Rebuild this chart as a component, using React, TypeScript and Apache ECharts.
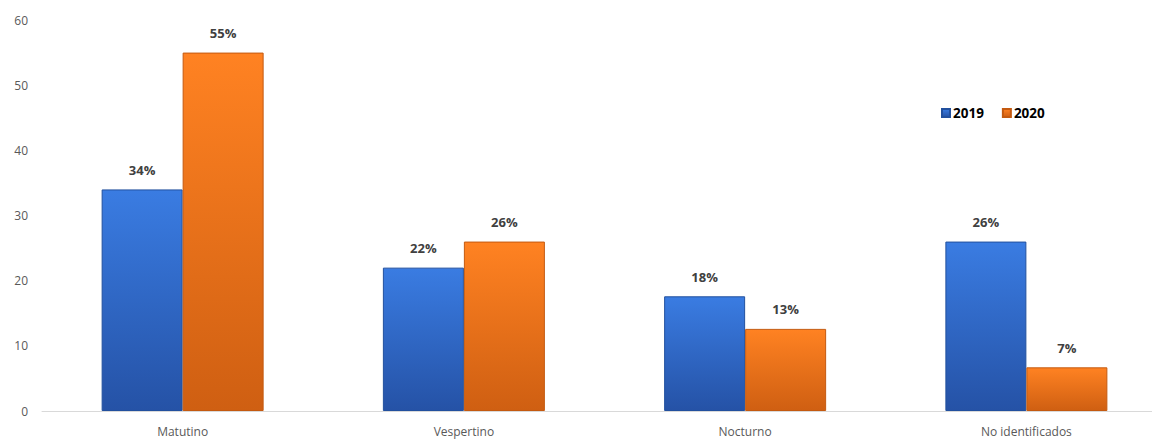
import React, { useEffect, useRef } from "react";
import * as echarts from "echarts";

const categories = ["Matutino", "Vespertino", "Nocturno", "No identificados"];
const series2019 = [34, 22, 17.6, 26];
const series2020 = [55, 26, 12.6, 6.7];
const seriesNames = ["2019", "2020"];
const yTicks = { min: 0, max: 60, interval: 10 };

const FONT = "'Open Sans', 'Noto Sans', sans-serif";

const blueFill = new echarts.graphic.LinearGradient(0, 0, 0, 1, [
  { offset: 0, color: "#3a7ce2" },
  { offset: 1, color: "#2552a6" },
]);
const orangeFill = new echarts.graphic.LinearGradient(0, 0, 0, 1, [
  { offset: 0, color: "#ff8222" },
  { offset: 1, color: "#cf5f12" },
]);

export default function App() {
  const ref = useRef<HTMLDivElement>(null);
  useEffect(() => {
    document.body.style.margin = "0";
    const chart = echarts.init(ref.current!, null, { renderer: "svg" });
    const label = {
      show: true,
      position: "top" as const,
      distance: 13,
      fontFamily: FONT,
      fontWeight: "bold" as const,
      fontSize: 13,
      color: "#404040",
      formatter: (p: any) => Math.round(p.value) + "%",
    };
    chart.setOption({
      animation: false,
      backgroundColor: "#ffffff",
      grid: {
        left: 42,
        right: 3,
        top: 20,
        bottom: 30,
        containLabel: false,
        outerBoundsMode: "none",
      },
      legend: {
        data: seriesNames,
        left: 936,
        top: 101,
        itemWidth: 8,
        itemHeight: 8,
        itemGap: 18,
        icon: "rect",
        textStyle: { fontFamily: FONT, fontWeight: "bold", fontSize: 13.5, color: "#000000", padding: [0, 0, 0, -2] },
      },
      xAxis: {
        type: "category",
        data: categories,
        axisLine: { show: true, lineStyle: { color: "#d9d9d9", width: 1 } },
        axisTick: { show: false },
        axisLabel: { fontFamily: FONT, fontSize: 12, color: "#595959", margin: 14 },
      },
      yAxis: {
        type: "value",
        min: yTicks.min,
        max: yTicks.max,
        interval: yTicks.interval,
        splitLine: { show: false },
        axisLine: { show: false },
        axisTick: { show: false },
        axisLabel: { fontFamily: FONT, fontSize: 12, color: "#595959", margin: 14 },
      },
      series: [
        {
          name: seriesNames[0],
          type: "bar",
          data: series2019,
          barWidth: 81,
          barGap: "0%",
          itemStyle: { color: blueFill, borderColor: "#22509e", borderWidth: 1 },
          label,
        },
        {
          name: seriesNames[1],
          type: "bar",
          data: series2020,
          barWidth: 81,
          barGap: "0%",
          itemStyle: { color: orangeFill, borderColor: "#c45a10", borderWidth: 1 },
          label,
        },
      ],
    });
    return () => chart.dispose();
  }, []);
  return (
    <div style={{ position: "absolute", left: 0, top: 0, width: 1152, height: 441, overflow: "hidden" }}>
      <div ref={ref} style={{ width: 1170, height: 441 }} />
    </div>
  );
}
